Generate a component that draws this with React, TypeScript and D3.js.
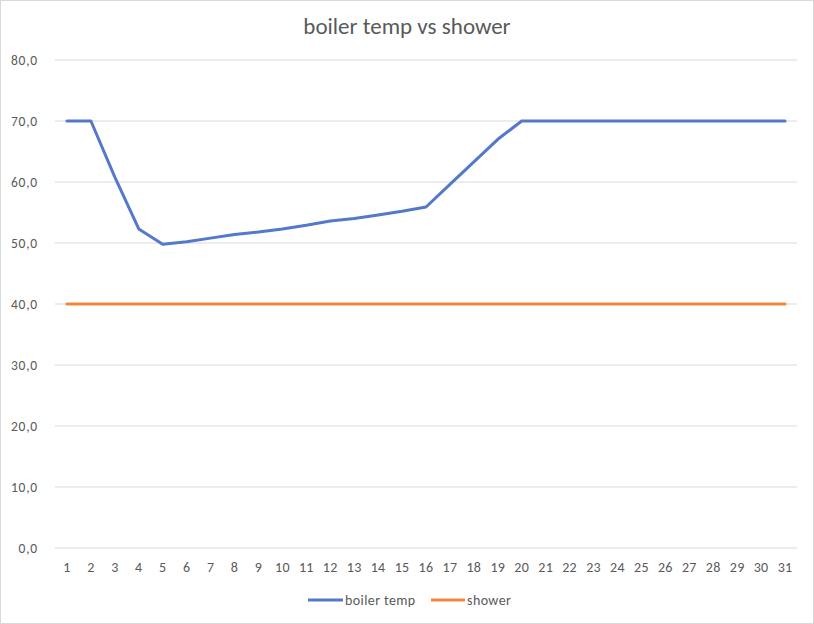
import React from "react";
import * as d3 from "d3";

const days: string[] = Array.from({ length: 31 }, (_, i) => String(i + 1));
const boilerTemp: number[] = [70, 70, 60.8, 52.3, 49.8, 50.2, 50.8, 51.4, 51.8, 52.3, 52.9, 53.6, 54.0, 54.6, 55.2, 55.9, 59.6, 63.3, 67.0, 70, 70, 70, 70, 70, 70, 70, 70, 70, 70, 70, 70];
const shower: number[] = Array.from({ length: 31 }, () => 40);
const yTicks: number[] = [0, 10, 20, 30, 40, 50, 60, 70, 80];

const W = 814, H = 624;
const left = 55, right = 797, top = 60, bottom = 548;
const font = "Carlito, Calibri, Lato, 'Open Sans', sans-serif";
const blue = "#5479C9";
const orange = "#EE8640";

export default function App() {
  const x = d3.scaleBand<string>().domain(days).range([left, right]);
  const y = d3.scaleLinear().domain([0, 80]).range([bottom, top]);
  const cx = (d: string) => (x(d) as number) + x.bandwidth() / 2;
  const line = d3.line<number>().x((_, i) => cx(days[i])).y((v) => y(v));
  const fmt = (v: number) => v.toFixed(1).replace(".", ",");
  return (
    <svg width={W} height={H} style={{ position: "absolute", left: 0, top: 0 }} fontFamily={font}>
      <rect x={0.5} y={0.5} width={W - 1} height={H - 1} fill="#fff" stroke="#d9d9d9" />
      <text x={407} y={34} textAnchor="middle" fontSize={23} fill="#595959">boiler temp vs shower</text>
      {yTicks.map((t) => (
        <g key={t}>
          <line x1={left} x2={right} y1={y(t)} y2={y(t)} stroke="#d9d9d9" strokeWidth={1} />
          <text x={38} y={y(t) + 4.5} textAnchor="end" fontSize={13.5} letterSpacing={0.8} fill="#595959">{fmt(t)}</text>
        </g>
      ))}
      {days.map((d) => (
        <text key={d} x={cx(d)} y={572} textAnchor="middle" fontSize={14} letterSpacing={0.3} fill="#595959">{d}</text>
      ))}
      <path d={line(shower) || ""} fill="none" stroke={orange} strokeWidth={3} strokeLinejoin="round" strokeLinecap="round" />
      <path d={line(boilerTemp) || ""} fill="none" stroke={blue} strokeWidth={3} strokeLinejoin="round" strokeLinecap="round" />
      <line x1={308} x2={343} y1={600} y2={600} stroke={blue} strokeWidth={3} />
      <text x={345} y={605} fontSize={14} letterSpacing={0.4} fill="#595959">boiler temp</text>
      <line x1={431} x2={465} y1={600} y2={600} stroke={orange} strokeWidth={3} />
      <text x={467} y={605} fontSize={14} letterSpacing={0.4} fill="#595959">shower</text>
    </svg>
  );
}
